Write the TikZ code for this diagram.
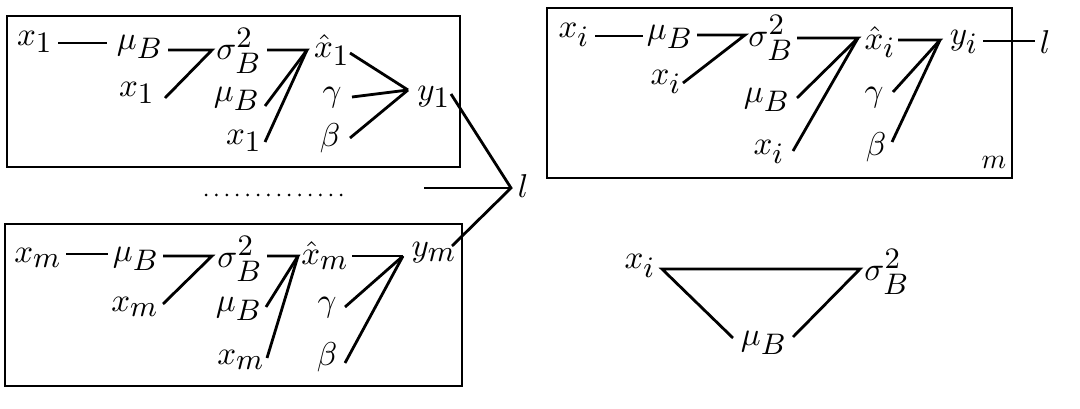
\documentclass[tikz,border=0pt]{standalone}
\DeclareMathSizes{10}{10}{9}{7}
\newcommand{\mylab}[1]{\scalebox{3.3}{$#1$}}
\begin{document}
\begin{tikzpicture}[x=1pt,y=-1pt,
  lab/.style={inner sep=0pt,outer sep=0pt,font=\fontsize{10}{12}\selectfont},
  ln/.style={line width=2.8pt,line join=miter},
  frame/.style={line width=2.8pt}]
\useasboundingbox (0,0) rectangle (1080,409);

% ---------- top-left box ----------
\draw[frame] (7,16) rectangle (460,167);
\node[lab] (a-x1) at (35,42) {\mylab{x_1}};
\node[lab] (a-mu) at (140,47) {\mylab{\mu_B}};
\node[lab] (a-x2) at (137,93) {\mylab{x_1}};
\node[lab] (a-sig) at (239,51) {\mylab{\sigma_B^2}};
\node[lab] (a-mu2) at (237,99) {\mylab{\mu_B}};
\node[lab] (a-x3) at (244,141) {\mylab{x_1}};
\node[lab] (a-xh) at (332,50) {\mylab{\hat{x}_1}};
\node[lab] (a-ga) at (332,98) {\mylab{\gamma}};
\node[lab] (a-be) at (330,138) {\mylab{\beta}};
\node[lab] (a-y) at (434,97) {\mylab{y_1}};
\coordinate (a-j1) at (212,50);
\coordinate (a-j2) at (307,50);
\coordinate (a-j3) at (408,90);
\draw[ln] (58,43) -- (107,43);
\draw[ln] (168,50) -- (a-j1) -- (165,98);
\draw[ln] (267,50) -- (a-j2) -- (265,106);
\draw[ln] (a-j2) -- (265,142);
\draw[ln] (350,53) -- (a-j3);
\draw[ln] (352,97) -- (a-j3);
\draw[ln] (350,138) -- (a-j3);

% ---------- loss node ----------
\node[lab] (L) at (523,186) {\mylab{l}};
\coordinate (Lj) at (511,188);
\draw[ln] (451,94) -- (Lj) -- (452,246);
\draw[ln] (424,188) -- (Lj);
\draw[line width=3pt,line cap=round,dash pattern=on 0pt off 10.4pt] (206,195) -- (342,195);

% ---------- bottom-left box ----------
\draw[frame] (5,224) rectangle (462,386);
\node[lab] (b-x1) at (38,258) {\mylab{x_m}};
\node[lab] (b-mu) at (136,259) {\mylab{\mu_B}};
\node[lab] (b-x2) at (135,307) {\mylab{x_m}};
\node[lab] (b-sig) at (240,259) {\mylab{\sigma_B^2}};
\node[lab] (b-mu2) at (239,309) {\mylab{\mu_B}};
\node[lab] (b-x3) at (241,360) {\mylab{x_m}};
\node[lab] (b-xh) at (325,256) {\mylab{\hat{x}_m}};
\node[lab] (b-ga) at (327,308) {\mylab{\gamma}};
\node[lab] (b-be) at (327,357) {\mylab{\beta}};
\node[lab] (b-y) at (434,253) {\mylab{y_m}};
\coordinate (b-j1) at (212,256);
\coordinate (b-j2) at (298,256);
\coordinate (b-j3) at (403,256);
\draw[ln] (66,254) -- (108,254);
\draw[ln] (163,256) -- (b-j1) -- (163,304);
\draw[ln] (267,256) -- (b-j2) -- (266,307);
\draw[ln] (b-j2) -- (267,358);
\draw[ln] (352,256) -- (b-j3);
\draw[ln] (345,307) -- (b-j3);
\draw[ln] (345,363) -- (b-j3);

% ---------- right box (plate) ----------
\draw[frame] (547,8) rectangle (1012,178);
\node[lab] (c-x1) at (574,35) {\mylab{x_i}};
\node[lab] (c-mu) at (670,37) {\mylab{\mu_B}};
\node[lab] (c-x2) at (666,82) {\mylab{x_i}};
\node[lab] (c-sig) at (771,38) {\mylab{\sigma_B^2}};
\node[lab] (c-mu2) at (767,100) {\mylab{\mu_B}};
\node[lab] (c-x3) at (769,152) {\mylab{x_i}};
\node[lab] (c-xh) at (880,42) {\mylab{\hat{x}_i}};
\node[lab] (c-ga) at (874,98) {\mylab{\gamma}};
\node[lab] (c-be) at (876,147) {\mylab{\beta}};
\node[lab] (c-y) at (964,42) {\mylab{y_i}};
\node[lab] (c-l) at (1045,42) {\mylab{l}};
\node[lab] (c-m) at (994,162) {\scalebox{2.8}{$m$}};
\coordinate (c-j1) at (745,35);
\coordinate (c-j2) at (858,38);
\coordinate (c-j3) at (940,40);
\draw[ln] (595,36) -- (643,36);
\draw[ln] (697,35) -- (c-j1) -- (683,83);
\draw[ln] (797,38) -- (c-j2) -- (797,98);
\draw[ln] (c-j2) -- (793,151);
\draw[ln] (898,40) -- (c-j3) -- (893,92);
\draw[ln] (c-j3) -- (892,142);
\draw[ln] (983,41) -- (1035,41);

% ---------- triangle ----------
\node[lab] (d-x) at (640,266) {\mylab{x_i}};
\node[lab] (d-sig) at (887,272) {\mylab{\sigma_B^2}};
\node[lab] (d-mu) at (764,343) {\mylab{\mu_B}};
\coordinate (d-j1) at (662,269);
\coordinate (d-j2) at (860,269);
\draw[ln] (733,338) -- (d-j1) -- (d-j2) -- (793,337);
\end{tikzpicture}
\end{document}
